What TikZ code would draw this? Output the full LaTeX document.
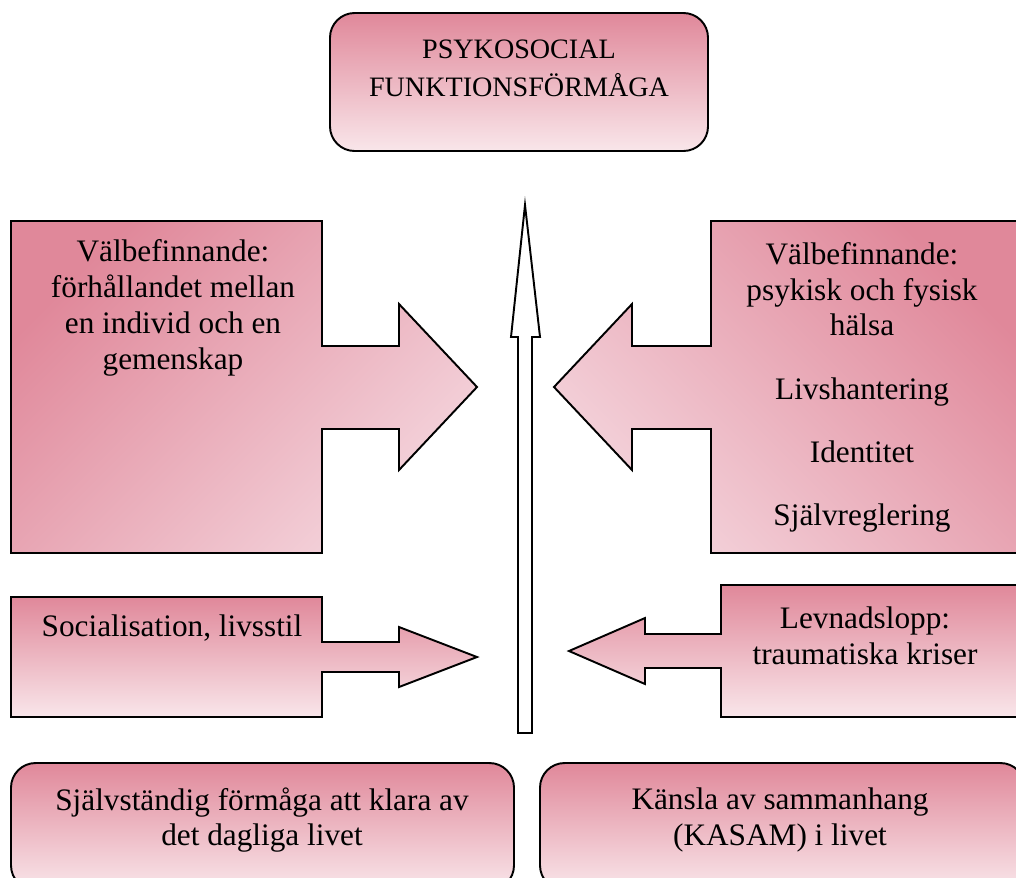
\documentclass[tikz,border=0pt]{standalone}
\usepackage{fontspec}
\setmainfont{Liberation Serif}
\definecolor{pinkD}{RGB}{224,136,154}
\definecolor{pinkL}{RGB}{249,230,234}
\definecolor{pinkM}{RGB}{244,212,220}
\begin{document}
\begin{tikzpicture}[x=0.02cm,y=-0.02cm,
  outline/.style={draw=black, line width=1.1pt, line join=miter},
  vgrad/.style={top color=pinkD, bottom color=pinkL},
  lgrad/.style={top color=pinkD, bottom color=pinkM, shading angle=45},
  rgrad/.style={top color=pinkD, bottom color=pinkM, shading angle=-45},
  roundbox/.style={outline, vgrad, rounded corners=14pt},
  txt/.style={font=\fontsize{17.8}{20.4}\selectfont, align=center, inner sep=0pt},
  ttl/.style={font=\fontsize{16}{21.5}\selectfont, align=center, inner sep=0pt},
  upArrow/.style={draw=black, line width=1.1pt, fill=white, line join=miter}]
\useasboundingbox (0,0) rectangle (1016,877);

% top box
\draw[roundbox] (330,13) rectangle (708,151);
\node[ttl] (title) at (519,68) {PSYKOSOCIAL\\FUNKTIONSFÖRMÅGA};

% central upward arrow
\draw[upArrow] (525,205) -- (540,337) -- (532,337) -- (532,733) -- (518,733) -- (518,337) -- (511,337) -- cycle;

% left big shape
\draw[outline, lgrad] (11,221) -- (322,221) -- (322,346) -- (399,346) -- (399,304) -- (477,387)
  -- (399,470) -- (399,429) -- (322,429) -- (322,553) -- (11,553) -- cycle;
\node[txt] (lw) at (173,308) {Välbefinnande:\\förhållandet mellan\\en individ och en\\gemenskap};

% right big shape
\draw[outline, rgrad] (1019,221) -- (711,221) -- (711,346) -- (632,346) -- (632,304) -- (554,387)
  -- (632,470) -- (632,429) -- (711,429) -- (711,553) -- (1019,553) -- cycle;
\node[txt] (rw) at (862,387) {Välbefinnande:\\psykisk och fysisk\\hälsa\\[15.6pt]Livshantering\\[15.6pt]Identitet\\[15.3pt]Självreglering};

% lower left shape
\draw[outline, vgrad] (11,597) -- (322,597) -- (322,642) -- (399,642) -- (399,627) -- (477,657)
  -- (399,687) -- (399,672) -- (322,672) -- (322,717) -- (11,717) -- cycle;
\node[txt] (soc) at (172,628) {Socialisation, livsstil};

% lower right shape
\draw[outline, vgrad] (1019,585) -- (721,585) -- (721,634) -- (645,634) -- (645,618) -- (569,651)
  -- (645,684) -- (645,668) -- (721,668) -- (721,717) -- (1019,717) -- cycle;
\node[txt] (lev) at (865,636) {Levnadslopp:\\traumatiska kriser};

% bottom boxes
\draw[roundbox] (11,763) rectangle (514,890);
\node[txt] (sj) at (262,820) {Självständig förmåga att klara av\\det dagliga livet};
\draw[roundbox] (540,763) rectangle (1025,890);
\node[txt] (ka) at (780,820) {Känsla av sammanhang\\(KASAM) i livet};
\end{tikzpicture}
\end{document}
